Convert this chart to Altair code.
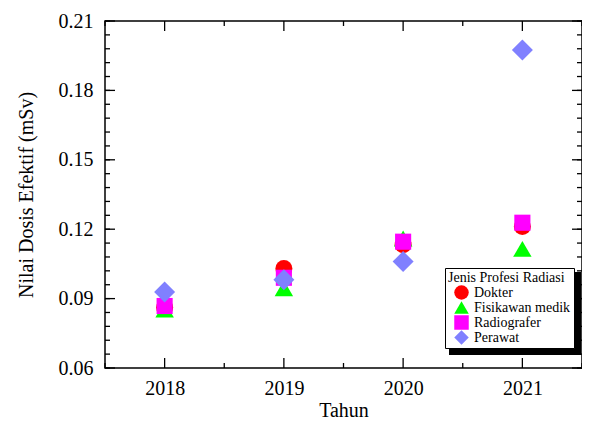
import altair as alt
import pandas as pd

# ---- data ----
years = [2018, 2019, 2020, 2021]
series = ["Dokter", "Fisikawan medik", "Radiografer", "Perawat"]
dokter = [0.0862, 0.1030, 0.1133, 0.1212]
fisikawan = [0.0853, 0.0945, 0.1160, 0.1115]
radiografer = [0.0868, 0.0990, 0.1146, 0.1228]
perawat = [0.0929, 0.0981, 0.1060, 0.1975]

y_major = [0.06, 0.09, 0.12, 0.15, 0.18, 0.21]
y_minor = [round(0.06 + 0.006 * i, 3) for i in range(26)]
x_major = [2018, 2019, 2020, 2021]
x_minor = [2017.5, 2018.5, 2019.5, 2020.5, 2021.5]

colors = ["#ff0000", "#00ff00", "#ff00ff", "#8080ff"]
shapes = ["circle", "triangle-up", "square", "diamond"]
sizes = [290, 340, 260, 440]

W, H = 477, 347
FONT = "Liberation Serif"

xs = alt.Scale(domain=[2017.5, 2021.5], nice=False, zero=False)
ys = alt.Scale(domain=[0.06, 0.21], nice=False, zero=False)

legend = alt.Legend(
    title="Jenis Profesi Radiasi",
    orient="none", legendX=340, legendY=247,
    fillColor="white", strokeColor="black", padding=3, cornerRadius=0,
    titleFont=FONT, titleFontSize=14, titleFontWeight="normal", titleColor="black",
    titlePadding=0,
    labelFont=FONT, labelFontSize=14, labelColor="black", labelLimit=200,
    symbolStrokeWidth=0, symbolOpacity=1, symbolSize=210, symbolOffset=6,
    rowPadding=-3, labelOffset=5,
)

xenc = alt.X("Tahun:Q", scale=xs, title="Tahun",
             axis=alt.Axis(values=x_major, format="d", domain=False, ticks=False,
                           grid=False, labelPadding=10, titlePadding=2))
yenc = alt.Y("Nilai:Q", scale=ys, title="Nilai Dosis Efektif (mSv)",
             axis=alt.Axis(values=y_major, format=".2f", domain=False, ticks=False,
                           grid=False, labelPadding=12, titlePadding=22))
cenc = alt.Color("Profesi:N", scale=alt.Scale(domain=series, range=colors), legend=legend)
senc = alt.Shape("Profesi:N", scale=alt.Scale(domain=series, range=shapes), legend=legend)

point_layers = []
for name, vals, sz in zip(series, [dokter, fisikawan, radiografer, perawat], sizes):
    d = pd.DataFrame({"Tahun": years, "Nilai": vals, "Profesi": [name] * len(years)})
    point_layers.append(
        alt.Chart(d).mark_point(filled=True, opacity=1, strokeWidth=0, size=sz).encode(
            x=xenc, y=yenc, color=cenc, shape=senc
        )
    )

ymaj = pd.DataFrame({"v": y_major})
ymin = pd.DataFrame({"v": y_minor})
xmaj = pd.DataFrame({"v": x_major})
xmin = pd.DataFrame({"v": x_minor})

def yticks(d, length):
    base = alt.Chart(d).mark_rule(color="black", strokeWidth=1.3)
    left = base.encode(y=alt.Y("v:Q", scale=ys), x=alt.value(0), x2=alt.value(length))
    right = base.encode(y=alt.Y("v:Q", scale=ys), x=alt.value(W), x2=alt.value(W - length))
    return left + right

def xticks(d, length):
    base = alt.Chart(d).mark_rule(color="black", strokeWidth=1.3)
    bottom = base.encode(x=alt.X("v:Q", scale=xs), y=alt.value(H), y2=alt.value(H - length))
    top = base.encode(x=alt.X("v:Q", scale=xs), y=alt.value(0), y2=alt.value(length))
    return bottom + top

shadow = alt.Chart(pd.DataFrame({"a": [0]})).mark_rect(color="black").encode(
    x=alt.value(344), x2=alt.value(476), y=alt.value(251), y2=alt.value(334)
)

chart = alt.layer(
    yticks(ymin, 5), yticks(ymaj, 10), xticks(xmin, 5), xticks(xmaj, 10),
    shadow, *point_layers
).properties(
    width=W, height=H,
    autosize=alt.AutoSizeParams(type="none"),
    padding={"left": 97, "top": 13, "right": 0, "bottom": 53},
).configure_view(
    stroke="black", strokeWidth=1.5
).configure_axis(
    labelFont=FONT, labelFontSize=20, labelColor="black",
    titleFont=FONT, titleFontSize=20, titleColor="black", titleFontWeight="normal",
).configure_legend(
    labelFont=FONT, labelFontSize=14, titleFont=FONT, titleFontSize=14,
    titleFontWeight="normal",
)

chart.save("out.html", embed_options={"renderer": "svg", "actions": False})
